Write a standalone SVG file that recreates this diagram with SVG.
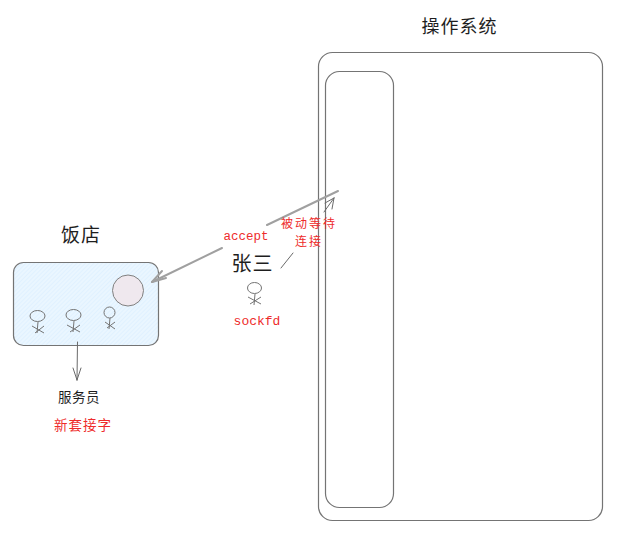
<svg xmlns="http://www.w3.org/2000/svg" width="618" height="545" viewBox="0 0 618 545">
<defs>
<pattern id="hatch" width="3" height="3" patternUnits="userSpaceOnUse" patternTransform="rotate(-45)">
<rect width="3" height="3" fill="#eaf6ff"/>
<rect width="3" height="1" fill="#e0f1ff"/>
</pattern>
</defs>
<style>
.box{fill:none;stroke:#747474;stroke-width:1.2}
.fig{fill:none;stroke:#747474;stroke-width:1}
.conn{fill:none;stroke:#6a6a6a;stroke-width:1;stroke-linecap:round;stroke-linejoin:round}
.thick{fill:none;stroke:#a0a0a0;stroke-width:2;stroke-linecap:round;stroke-linejoin:round}
.t{font-family:"Noto Sans CJK SC","Liberation Sans",sans-serif;fill:#1e1e1e;text-anchor:middle}
.r{font-family:"Noto Sans CJK SC","Liberation Sans",sans-serif;fill:#ee2b2b;text-anchor:middle}
.m{font-family:"Liberation Mono",monospace;fill:#ee2b2b;text-anchor:middle}
</style>
<rect width="618" height="545" fill="#fff"/>
<g id="os">
<text class="t" x="459.500" y="33" font-size="18" letter-spacing="1">操作系统</text>
<rect class="box" x="318.500" y="52.500" width="284" height="468" rx="14"/>
</g>
<g id="inner">
<rect class="box" x="325.500" y="71.500" width="68" height="436" rx="14"/>
</g>
<g id="restaurant">
<text class="t" x="81" y="242" font-size="19" letter-spacing="1">饭店</text>
<rect x="13.500" y="262.500" width="145" height="83" rx="10" fill="url(#hatch)" stroke="#747474" stroke-width="1.200"/>
</g>
<g id="circle">
<circle cx="128" cy="290.500" r="15.500" fill="#efe8ee" stroke="#808080" stroke-width="1"/>
</g>
<g id="person1">
<ellipse class="fig" cx="37.500" cy="316" rx="7.500" ry="5.500"/>
<path class="fig" d="M38 322L37 333M32 326L44 333M44 326L35 333"/>
</g>
<g id="person2">
<ellipse class="fig" cx="73.500" cy="315" rx="7.500" ry="5.500"/>
<path class="fig" d="M74 321L73 332M67 325L80 332M80 325L70 332"/>
</g>
<g id="person3">
<ellipse class="fig" cx="109.500" cy="312.500" rx="5.500" ry="5.500"/>
<path class="fig" d="M110 318L109 329M105 322L115 329M115 322L107 328"/>
</g>
<g id="zhangsan">
<text class="t" x="252.500" y="271" font-size="20" letter-spacing="1">张三</text>
<ellipse class="fig" cx="254.500" cy="288" rx="7" ry="5.500"/>
<path class="fig" d="M255 294L254 305M248 297L261 304M261 297L250 304"/>
</g>
<g id="connectors">
<path class="thick" d="M338 191L267 225M222 248L152 282"/>
<path class="thick" d="M152 282L166 278M152 282L162 271"/>
<path class="conn" d="M281 268L293 253"/>
<path class="conn" d="M324 212L334 198M334 198L325 203M334 198L332 209"/>
<path class="conn" d="M77.500 342L77 380M77 380L73 368M77 380L81 368"/>
</g>
<g id="labels">
<text class="m" x="246" y="240" font-size="12.500">accept</text>
<text class="r" x="309" y="227.500" font-size="12" letter-spacing="2">被动等待</text>
<text class="r" x="309" y="245.500" font-size="12" letter-spacing="2">连接</text>
<text class="m" x="257" y="325" font-size="13">sockfd</text>
<text class="t" x="79" y="402" font-size="13.500" letter-spacing="0.500">服务员</text>
<text class="r" x="83" y="430" font-size="13.500" letter-spacing="1">新套接字</text>
</g>
</svg>
